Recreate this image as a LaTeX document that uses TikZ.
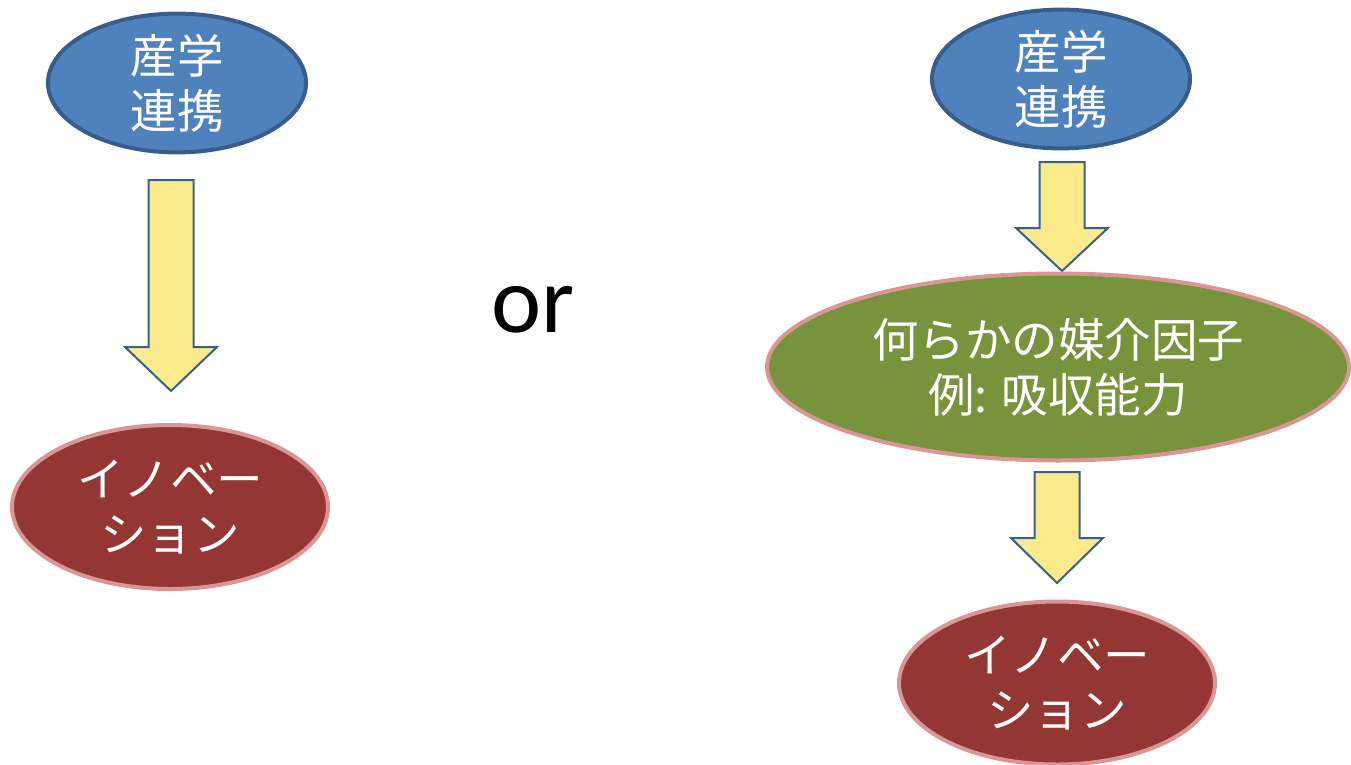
\documentclass[tikz,border=0pt]{standalone}
\usepackage{fontspec}
\setmainfont{Carlito}
\newfontfamily\jp{Noto Sans CJK JP}
\usetikzlibrary{shapes.geometric}
\definecolor{bluefill}{HTML}{4F81BD}
\definecolor{blueline}{HTML}{385D8A}
\definecolor{redfill}{HTML}{943634}
\definecolor{pinkline}{HTML}{D99694}
\definecolor{greenfill}{HTML}{77933C}
\definecolor{arrowfill}{HTML}{F9EB8B}
\definecolor{arrowline}{HTML}{3B5E8F}
\tikzset{
  oval/.style={ellipse, inner sep=0pt, line width=4pt, text=white, align=center,
    font=\jp\fontsize{46.5}{55}\selectfont},
  bluebox/.style={oval, fill=bluefill, draw=blueline},
  redbox/.style={oval, fill=redfill, draw=pinkline},
  greenbox/.style={oval, fill=greenfill, draw=pinkline},
  blockarrow/.style={fill=arrowfill, draw=arrowline, line width=2pt, line join=miter},
}
% #1 center x, #2 top y, #3 shoulder y, #4 tip y (y downward)
\newcommand{\myblockarrow}[4]{%
  \draw[blockarrow] (#1-22.5,-#2) -- (#1+22.5,-#2) -- (#1+22.5,-#3) -- (#1+46,-#3)
    -- (#1,-#4) -- (#1-46,-#3) -- (#1-22.5,-#3) -- cycle;}
\begin{document}
\begin{tikzpicture}[x=1pt,y=1pt]
\useasboundingbox (0,0) rectangle (1351,-765);
% left column
\node[bluebox, minimum width=258pt, minimum height=135pt] (lblue) at (177,-83) {産学\\連携};
\myblockarrow{171}{180}{347}{391}
\node[redbox, minimum width=316pt, minimum height=164pt] (lred) at (170,-507) {イノベー\\ション};
% or
\node[font=\fontsize{95}{100}\selectfont, inner sep=0pt] (or) at (533,-310) {or};
% right column
\node[bluebox, minimum width=258pt, minimum height=131pt] (rblue) at (1061,-79) {産学\\連携};
\myblockarrow{1062}{162}{228}{271}
\node[greenbox, minimum width=582pt, minimum height=187pt] (green) at (1058,-367) {何らかの媒介因子\\例: 吸収能力};
\myblockarrow{1057}{472}{538}{583}
\node[redbox, minimum width=316pt, minimum height=163pt] (rred) at (1057,-683) {イノベー\\ション};
\end{tikzpicture}
\end{document}
